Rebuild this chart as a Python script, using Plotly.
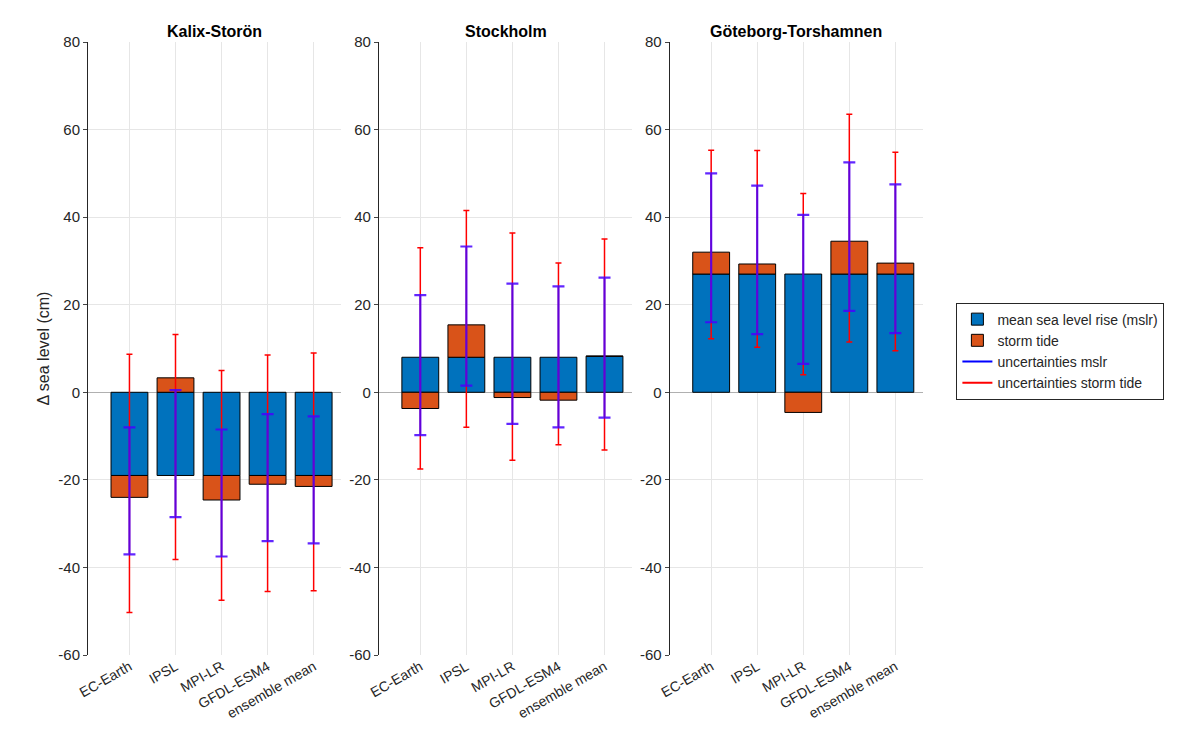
import plotly.graph_objects as go
from plotly.subplots import make_subplots

models = ["EC-Earth", "IPSL", "MPI-LR", "GFDL-ESM4", "ensemble mean"]
stations = ["Kalix-Storön", "Stockholm", "Göteborg-Torshamnen"]
yticks = [-60, -40, -20, 0, 20, 40, 60, 80]

mslr = [[-19, -19, -19, -19, -19],
        [8, 8, 8, 8, 8.2],
        [27, 27, 27, 27, 27]]
storm = [[-5, 3.3, -5.6, -2, -2.5],
         [-3.7, 7.4, -1.2, -1.8, 0.1],
         [5, 2.3, -4.6, 7.5, 2.5]]
mslr_hi = [[-8, 0.5, -8.5, -5, -5.5],
           [22.2, 33.3, 24.8, 24.2, 26.2],
           [50, 47.2, 40.5, 52.5, 47.5]]
mslr_lo = [[-37, -28.5, -37.5, -34, -34.5],
           [-9.8, 1.5, -7.2, -8, -5.8],
           [16, 13.3, 6.5, 18.6, 13.5]]
st_hi = [[8.7, 13.2, 5, 8.5, 9],
         [33, 41.5, 36.4, 29.5, 35],
         [55.3, 55.2, 45.4, 63.5, 54.8]]
st_lo = [[-50.3, -38.2, -47.5, -45.5, -45.3],
         [-17.5, -8, -15.5, -12, -13.2],
         [12.2, 10.3, 4, 11.5, 9.5]]

BLUE = "#0072BD"
ORANGE = "#D95319"

fig = make_subplots(rows=1, cols=3, subplot_titles=[f"<b>{s}</b>" for s in stations],
                    horizontal_spacing=0.045)
for i in range(3):
    c = i + 1
    first = i == 0
    fig.add_trace(go.Bar(x=models, y=mslr[i], marker=dict(color=BLUE, line=dict(color="black", width=1)),
                         name="mean sea level rise (mslr)", showlegend=first, legendrank=1), row=1, col=c)
    fig.add_trace(go.Bar(x=models, y=storm[i], marker=dict(color=ORANGE, line=dict(color="black", width=1)),
                         name="storm tide", showlegend=first, legendrank=2), row=1, col=c)
    for hi, lo, col, w, th in [(st_hi[i], st_lo[i], "#FF0000", 3, 1.5),
                               (mslr_hi[i], mslr_lo[i], "rgba(70,0,255,0.85)", 6, 2.2)]:
        mid = [(a + b) / 2 for a, b in zip(hi, lo)]
        fig.add_trace(go.Scatter(x=models, y=mid, mode="markers", marker=dict(size=0.1, opacity=0),
                                 error_y=dict(type="data", symmetric=False,
                                              array=[a - m for a, m in zip(hi, mid)],
                                              arrayminus=[m - b for m, b in zip(mid, lo)],
                                              color=col, width=w, thickness=th),
                                 showlegend=False, hoverinfo="skip"), row=1, col=c)
    fig.update_yaxes(range=[-60, 80], tickvals=yticks, ticktext=[str(v) for v in yticks],
                     showgrid=True, gridcolor="#e6e6e6",
                     zeroline=True, zerolinecolor="#b0b0b0", zerolinewidth=1,
                     showline=True, linecolor="#262626", ticks="outside", ticklen=4,
                     tickfont=dict(size=15, color="#262626"), row=1, col=c)
    fig.update_xaxes(range=[-0.9, 4.6], showgrid=True, gridcolor="#e6e6e6", tickangle=-30,
                     tickfont=dict(size=14, color="#262626"), showline=False, row=1, col=c)

fig.add_trace(go.Scatter(x=[None], y=[None], mode="lines", line=dict(color="#0000FF", width=2),
                         name="uncertainties mslr", legendrank=3))
fig.add_trace(go.Scatter(x=[None], y=[None], mode="lines", line=dict(color="#FF0000", width=2),
                         name="uncertainties storm tide", legendrank=4))

fig.update_yaxes(title=dict(text="Δ sea level (cm)", font=dict(size=16, color="#262626"), standoff=4), row=1, col=1)
fig.update_annotations(font=dict(size=16, color="black"))
fig.update_layout(width=1200, height=755, barmode="relative", bargap=0.2,
                  plot_bgcolor="white", paper_bgcolor="white",
                  font=dict(family="Arial, Liberation Sans", color="#262626"),
                  margin=dict(l=80, r=285, t=34, b=108),
                  legend=dict(x=1.04, y=0.575, xanchor="left", yanchor="top",
                              bordercolor="#262626", borderwidth=1, font=dict(size=14),
                              tracegroupgap=0, itemwidth=30))
fig.write_html("out.html")
